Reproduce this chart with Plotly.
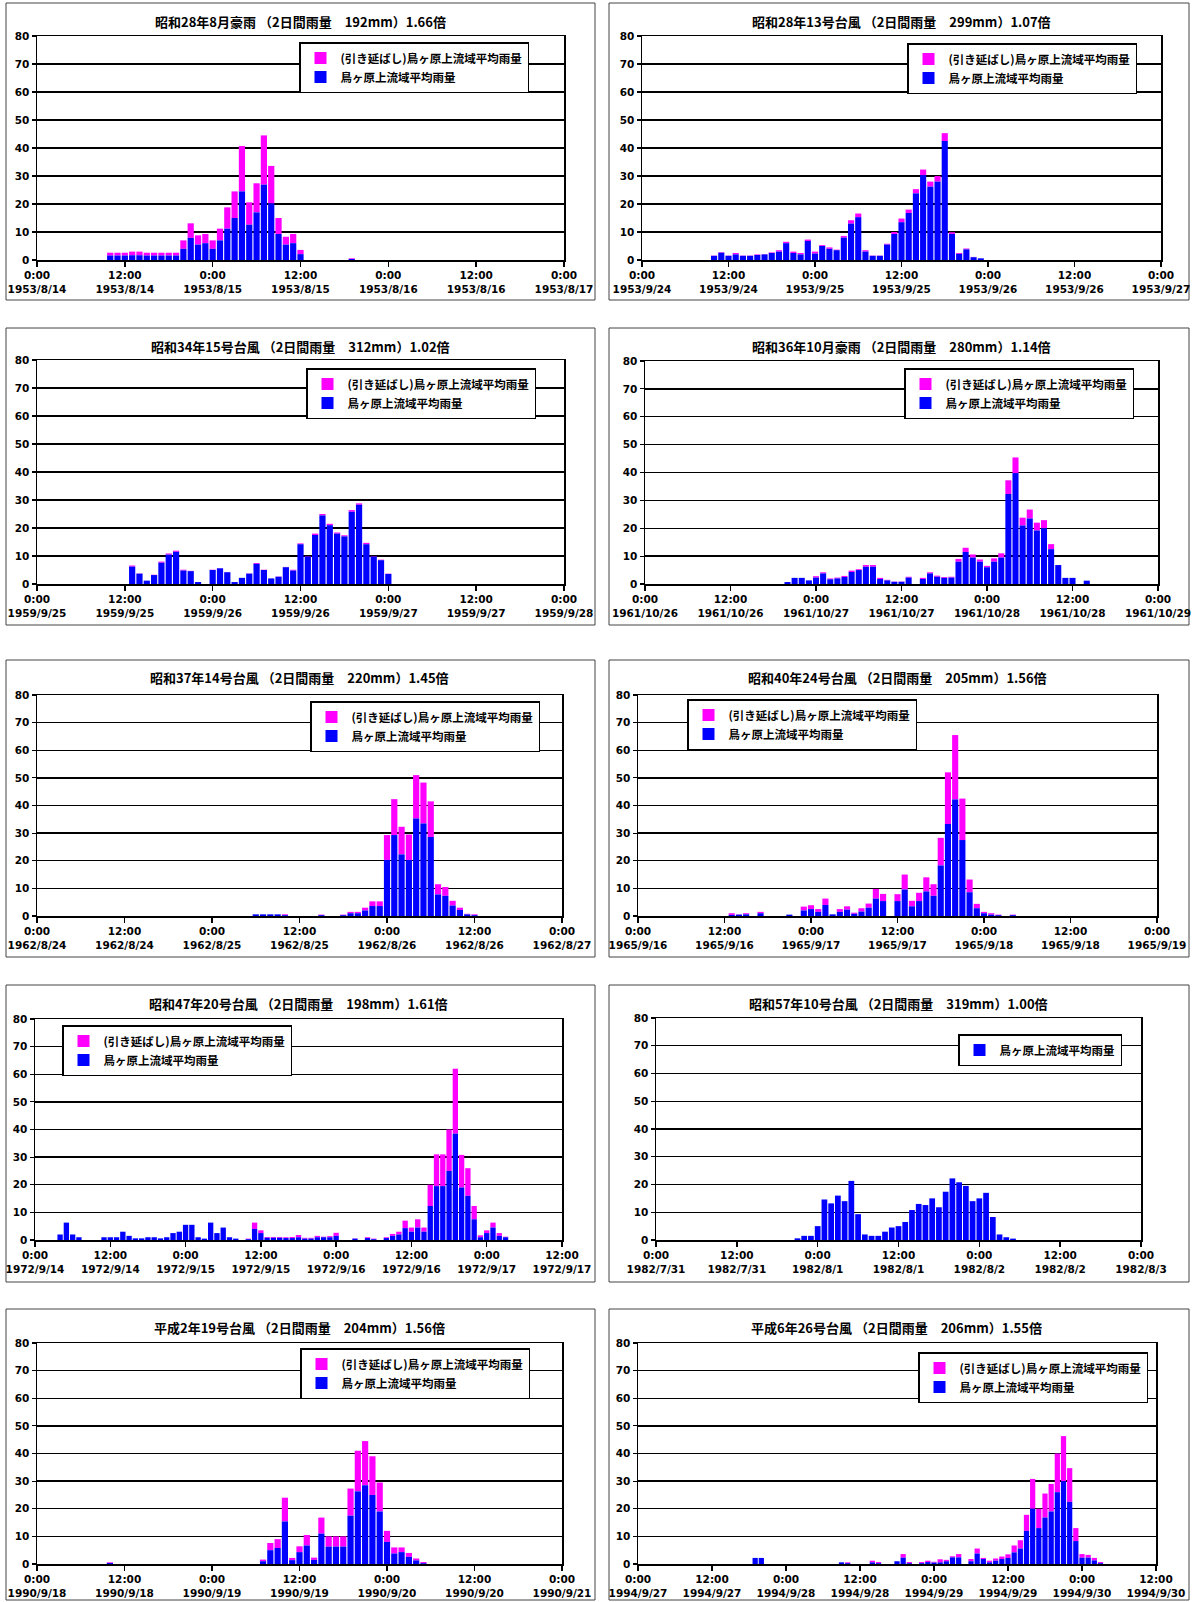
import pandas as pd
import plotly.graph_objects as go

# ---------------- data ----------------
NAME_EXT = "(引き延ばし)鳥ヶ原上流域平均雨量"
NAME_BASE = "鳥ヶ原上流域平均雨量"

titles = [
    "昭和28年8月豪雨 （2日間雨量　192mm）1.66倍",
    "昭和28年13号台風 （2日間雨量　299mm）1.07倍",
    "昭和34年15号台風 （2日間雨量　312mm）1.02倍",
    "昭和36年10月豪雨 （2日間雨量　280mm）1.14倍",
    "昭和37年14号台風 （2日間雨量　220mm）1.45倍",
    "昭和40年24号台風 （2日間雨量　205mm）1.56倍",
    "昭和47年20号台風 （2日間雨量　198mm）1.61倍",
    "昭和57年10号台風 （2日間雨量　319mm）1.00倍",
    "平成2年19号台風 （2日間雨量　204mm）1.56倍",
    "平成6年26号台風 （2日間雨量　206mm）1.55倍",
]
starts = ["1953-08-14", "1953-09-24", "1959-09-25", "1961-10-26", "1962-08-24",
          "1965-09-16", "1972-09-14", "1982-07-31", "1990-09-18", "1994-09-27"]
span_hours = [72, 72, 72, 72, 72, 72, 84, 72, 72, 84]

# hour offsets from start, observed (blue) and stretched (blue + magenta) hourly rainfall [mm]
hours_1 = [10, 11, 12, 13, 14, 15, 16, 17, 18, 19, 20, 21, 22, 23, 24, 25, 26, 27, 28, 29, 30, 31, 32, 33, 34, 35, 36, 43]
blue_1 = [1.6, 1.6, 1.6, 1.7, 1.7, 1.6, 1.6, 1.6, 1.6, 1.6, 4.0, 7.9, 5.5, 6.0, 4.0, 7.0, 11.2, 15.0, 24.5, 12.6, 17.0, 26.9, 20.2, 9.3, 5.5, 6.0, 2.1, 0.35]
ext_1 = [2.6, 2.6, 2.6, 3.0, 3.0, 2.6, 2.6, 2.6, 2.6, 2.6, 7.0, 13.1, 8.8, 9.3, 7.0, 11.2, 18.8, 24.5, 40.7, 20.6, 27.4, 44.5, 33.6, 15.0, 8.3, 9.3, 3.6, 0.6]

hours_2 = list(range(10, 48))
blue_2 = [1.5, 2.6, 1.5, 2.0, 1.5, 1.5, 1.8, 2.0, 2.5, 3.0, 6.0, 2.5, 2.0, 6.8, 2.3, 5.0, 4.0, 3.5, 8.0, 13.0,
          15.3, 3.0, 1.5, 1.5, 5.5, 9.3, 13.5, 16.8, 23.8, 30.3, 26.2, 28.0, 42.5, 9.3, 2.2, 3.8, 1.0, 0.6]
ext_2 = [1.6, 2.8, 1.6, 2.5, 1.6, 1.6, 2.0, 2.1, 2.7, 3.5, 6.5, 3.0, 2.5, 7.3, 3.0, 5.3, 4.5, 3.7, 8.6, 14.2,
         16.6, 3.5, 1.6, 1.6, 5.8, 10.0, 14.8, 18.0, 25.3, 32.3, 28.0, 30.0, 45.3, 9.9, 2.5, 4.1, 1.1, 0.6]

hours_3 = [13, 14, 15, 16, 17, 18, 19, 20, 21, 22, 24, 25, 26, 27, 28, 29, 30, 31, 32, 33, 34, 35, 36, 37, 38,
           39, 40, 41, 42, 43, 44, 45, 46, 47, 48]
blue_3 = [6.2, 3.7, 1.2, 3.2, 7.6, 10.5, 11.5, 4.8, 4.6, 0.7, 5.0, 5.6, 4.2, 0.7, 2.2, 3.7, 7.2, 5.0, 2.0, 2.6,
          6.0, 4.8, 14.2, 9.8, 17.5, 24.5, 21.0, 18.0, 17.0, 25.8, 28.3, 14.2, 9.8, 8.5, 3.6]
ext_3 = [6.6, 3.8, 1.2, 3.3, 8.0, 10.9, 11.9, 5.1, 4.7, 0.7, 5.1, 5.7, 4.3, 0.7, 2.2, 3.8, 7.5, 5.1, 2.0, 2.7,
         6.1, 5.1, 14.5, 10.0, 18.0, 25.0, 21.5, 18.4, 17.4, 26.4, 28.8, 14.7, 10.0, 8.7, 3.7]

hours_4 = [20, 21, 22, 23, 24, 25, 26, 27, 28, 29, 30, 31, 32, 33, 34, 35, 36, 37, 39, 40, 41, 42, 43, 44, 45,
           46, 47, 48, 49, 50, 51, 52, 53, 54, 55, 56, 57, 58, 59, 60, 62]
blue_4 = [0.7, 2.2, 2.2, 1.3, 2.3, 3.8, 1.7, 2.0, 2.5, 4.3, 5.0, 6.2, 6.2, 1.8, 1.3, 0.8, 0.8, 2.3, 1.8, 3.8,
          2.6, 2.2, 2.3, 8.0, 11.5, 9.5, 8.0, 6.0, 8.0, 9.5, 32.3, 39.8, 21.0, 23.5, 19.2, 20.0, 12.5, 6.8, 2.2, 2.2, 1.2]
ext_4 = [0.7, 2.2, 2.2, 1.3, 2.8, 4.2, 2.0, 2.3, 2.9, 4.8, 5.3, 6.8, 6.8, 2.2, 1.5, 0.9, 0.9, 2.6, 2.2, 4.2,
         3.0, 2.5, 2.6, 9.0, 13.0, 10.6, 8.8, 6.5, 9.2, 11.0, 37.2, 45.4, 23.8, 26.7, 22.0, 22.9, 14.3, 6.8, 2.2, 2.2, 1.2]

hours_5 = [30, 31, 32, 33, 34, 39, 42, 43, 44, 45, 46, 47, 48, 49, 50, 51, 52, 53, 54, 55, 56, 57, 58, 59, 60]
blue_5 = [0.6, 0.6, 0.6, 0.6, 0.3, 0.3, 0.3, 1.0, 1.0, 2.0, 3.6, 3.6, 20.3, 29.3, 22.3, 20.3, 35.3, 33.5, 28.6,
          7.8, 7.3, 3.8, 2.2, 0.6, 0.3]
ext_5 = [0.6, 0.6, 0.6, 0.6, 0.6, 0.5, 0.5, 1.5, 1.5, 3.0, 5.3, 5.3, 29.3, 42.3, 32.3, 29.5, 51.0, 48.3, 41.5,
         11.5, 10.5, 5.5, 3.0, 0.8, 0.6]

hours_6 = [13, 14, 15, 17, 21, 23, 24, 25, 26, 27, 28, 29, 30, 31, 32, 33, 34, 36, 37, 38, 39, 40, 41, 42, 43,
           44, 45, 46, 47, 48, 49, 50, 52]
blue_6 = [0.4, 0.5, 0.6, 1.0, 0.5, 2.0, 2.5, 1.5, 4.0, 0.6, 1.5, 2.3, 0.8, 1.6, 3.0, 6.3, 5.4, 5.4, 9.6, 3.5,
          5.4, 8.9, 7.3, 18.3, 33.3, 42.2, 27.5, 8.6, 2.8, 1.0, 0.5, 0.3, 0.3]
ext_6 = [1.0, 0.6, 1.0, 1.5, 0.5, 3.4, 3.9, 2.5, 6.3, 0.6, 2.5, 3.5, 1.2, 2.8, 4.5, 9.8, 8.0, 7.9, 15.0, 5.5,
         8.4, 14.0, 11.5, 28.3, 52.0, 65.5, 42.5, 13.2, 4.4, 1.5, 1.0, 0.5, 0.5]

hours_7 = [4, 5, 6, 7, 11, 12, 13, 14, 15, 16, 17, 18, 19, 20, 21, 22, 23, 24, 25, 26, 27, 28, 29, 30, 31, 32,
           34, 35, 36, 37, 38, 39, 40, 41, 42, 43, 44, 45, 46, 47, 48, 51, 53, 54, 56, 57, 58, 59, 60, 61, 62,
           63, 64, 65, 66, 67, 68, 69, 70, 71, 72, 73, 74, 75]
blue_7 = [2.0, 6.3, 2.0, 1.0, 1.0, 1.0, 1.0, 3.0, 1.5, 0.6, 0.6, 1.0, 1.0, 0.6, 1.0, 2.5, 3.0, 5.5, 5.5, 1.0,
          0.5, 6.3, 2.5, 4.5, 1.0, 0.5, 0.3, 4.0, 2.5, 0.8, 0.8, 0.8, 0.7, 0.7, 1.0, 0.5, 0.5, 1.0, 1.0, 1.0,
          1.5, 0.5, 0.7, 0.3, 0.7, 1.5, 2.0, 4.3, 3.0, 4.5, 3.0, 12.3, 19.5, 19.5, 25.0, 38.5, 19.0, 16.0, 7.5,
          1.0, 2.5, 4.5, 1.5, 1.0]
ext_7 = [2.0, 6.3, 2.0, 1.0, 1.0, 1.0, 1.0, 3.0, 1.5, 0.6, 0.6, 1.0, 1.0, 0.6, 1.0, 2.5, 3.0, 5.5, 5.5, 1.0,
         0.5, 6.3, 2.5, 4.5, 1.0, 0.5, 0.5, 6.3, 3.5, 1.1, 1.1, 1.1, 1.0, 1.1, 1.8, 0.8, 0.8, 1.5, 1.2, 1.4,
         2.6, 0.6, 1.0, 0.5, 1.0, 2.2, 3.0, 7.0, 4.5, 7.5, 4.5, 20.0, 31.0, 31.0, 40.0, 62.0, 30.8, 26.0, 12.3,
         1.7, 3.5, 6.3, 2.5, 1.2]

hours_8 = list(range(21, 54))
blue_8 = [0.6, 1.5, 1.5, 5.0, 14.6, 13.2, 16.0, 14.0, 21.3, 9.3, 2.0, 1.5, 1.5, 3.0, 4.5, 5.0, 6.5, 10.8, 13.0,
          12.6, 15.0, 11.8, 17.4, 22.2, 20.8, 19.5, 14.0, 15.0, 17.0, 8.3, 2.0, 1.0, 0.5]
ext_8 = None

hours_9 = [10] + list(range(31, 54))
blue_9 = [0.35, 1.0, 5.0, 5.8, 15.4, 1.4, 4.3, 6.7, 1.5, 11.0, 6.3, 6.3, 6.3, 17.5, 26.3, 28.5, 25.0, 19.0,
          8.0, 3.8, 4.3, 2.6, 1.3, 0.3]
ext_9 = [0.6, 1.6, 7.6, 9.0, 24.0, 2.2, 6.4, 10.5, 2.3, 16.8, 10.0, 10.0, 10.0, 27.3, 41.0, 44.5, 39.0, 29.5,
         12.0, 6.0, 6.0, 4.0, 2.0, 0.7]

hours_10 = [19, 20, 33, 34, 38, 39, 42, 43, 44, 46, 47, 48, 49, 50, 51, 52, 54, 55, 56, 57, 58, 59, 60, 61, 62,
            63, 64, 65, 66, 67, 68, 69, 70, 71, 72, 73, 74, 75]
blue_10 = [2.2, 2.2, 0.6, 0.3, 0.6, 0.3, 1.0, 2.3, 0.3, 0.3, 0.7, 0.5, 0.6, 1.0, 2.4, 2.4, 1.0, 3.8, 1.8, 0.6,
           1.2, 1.8, 2.2, 4.2, 5.6, 12.0, 20.0, 13.0, 16.8, 19.0, 26.0, 30.0, 22.5, 8.3, 2.3, 2.3, 1.3, 0.3]
ext_10 = [2.2, 2.2, 0.6, 0.6, 1.2, 0.7, 1.0, 3.6, 0.7, 0.7, 1.2, 0.8, 1.7, 1.5, 2.8, 3.6, 1.8, 5.6, 2.2, 1.2,
          2.0, 2.7, 3.5, 6.7, 8.6, 17.8, 30.8, 20.0, 25.5, 29.0, 40.0, 46.3, 34.7, 13.0, 3.6, 3.3, 2.2, 0.7]

hours_all = [hours_1, hours_2, hours_3, hours_4, hours_5, hours_6, hours_7, hours_8, hours_9, hours_10]
blue_all = [blue_1, blue_2, blue_3, blue_4, blue_5, blue_6, blue_7, blue_8, blue_9, blue_10]
ext_all = [ext_1, ext_2, ext_3, ext_4, ext_5, ext_6, ext_7, ext_8, ext_9, ext_10]

y_ticks = [0, 10, 20, 30, 40, 50, 60, 70, 80]

# ---------------- layout (pixel boxes) ----------------
W, H = 1199, 1602
# plot area: x0, x1, y0(top), y1(bottom)
plot_boxes = [
    (37, 564, 36, 260), (642, 1161, 36, 260),
    (37, 564, 360, 584), (645, 1158, 361, 584),
    (37, 562, 695, 916), (638, 1157, 695, 916),
    (35, 562, 1019, 1240), (656, 1141, 1018, 1240),
    (37, 562, 1343, 1564), (638, 1156, 1343, 1564),
]
title_y = [21, 21, 347, 347, 678, 678, 1003, 1003, 1327, 1327]
legend_pos = [(299, 42), (907, 43), (306, 368), (904, 368), (310, 701),
              (687, 699), (62, 1025), (958, 1034), (300, 1348), (918, 1352)]
frames = [
    (6, 3, 595, 300), (609, 3, 1189, 300),
    (6, 328, 595, 625), (609, 328, 1189, 625),
    (6, 660, 595, 957), (609, 660, 1189, 957),
    (6, 985, 595, 1282), (609, 985, 1189, 1282),
    (6, 1309, 595, 1600), (609, 1309, 1189, 1600),
]

BLUE = "#0000FF"
MAGENTA = "#FF00FF"
HOUR_MS = 3600 * 1000
BAR_W = 0.85 * HOUR_MS
CJK = "Noto Sans CJK JP"
NUMF = "DejaVu Sans"

fig = go.Figure()
layout = {}
annotations = []
shapes = []

for i in range(10):
    k = i + 1
    sfx = "" if k == 1 else str(k)
    xa, ya, lg = "x" + sfx, "y" + sfx, "legend" + sfx
    start = pd.Timestamp(starts[i])
    times = (start + pd.to_timedelta(hours_all[i], unit="h")).strftime("%Y-%m-%d %H:%M:%S").tolist()
    blue = blue_all[i]
    ext = ext_all[i]
    if ext is not None:
        fig.add_trace(go.Bar(
            x=times, y=[e - b for e, b in zip(ext, blue)], base=blue,
            name=NAME_EXT, marker=dict(color=MAGENTA, line=dict(width=0)),
            width=BAR_W, xaxis=xa, yaxis=ya, legend=lg, legendgroup=f"e{k}", hoverinfo="skip"))
    fig.add_trace(go.Bar(
        x=times, y=blue, name=NAME_BASE, marker=dict(color=BLUE, line=dict(width=0)),
        width=BAR_W, xaxis=xa, yaxis=ya, legend=lg, legendgroup=f"b{k}", hoverinfo="skip"))

    x0, x1, y0, y1 = plot_boxes[i]
    end = start + pd.Timedelta(hours=span_hours[i])
    layout["xaxis" + sfx] = dict(
        domain=[x0 / W, x1 / W], anchor=ya, type="date", automargin=False,
        range=[start.strftime("%Y-%m-%d %H:%M:%S"), end.strftime("%Y-%m-%d %H:%M:%S")],
        tickmode="linear", tick0=start.strftime("%Y-%m-%d %H:%M:%S"), dtick=12 * HOUR_MS,
        tickformat="%-H:%M<br>%Y/%-m/%-d",
        showline=True, mirror=True, linecolor="black", linewidth=1.5,
        ticks="outside", ticklen=5, tickwidth=1.5, tickcolor="black",
        showgrid=False, zeroline=False,
        tickfont=dict(family=NUMF, size=10.5, color="black", weight="bold"),
    )
    layout["yaxis" + sfx] = dict(
        domain=[1 - y1 / H, 1 - y0 / H], anchor=xa, range=[0, 80], automargin=False,
        tickmode="array", tickvals=y_ticks,
        showline=True, mirror=True, linecolor="black", linewidth=1.5,
        showgrid=True, gridcolor="black", gridwidth=1.4, zeroline=False,
        ticks="outside", ticklen=4, tickwidth=1.2, tickcolor="black",
        tickfont=dict(family=NUMF, size=10.5, color="black", weight="bold"),
    )
    lx, ly = legend_pos[i]
    layout[lg] = dict(
        x=lx / W, y=1 - ly / H, xanchor="left", yanchor="top", xref="paper", yref="paper",
        bgcolor="white", bordercolor="black", borderwidth=1.5,
        font=dict(family=CJK, size=11.5, color="black", weight="bold"),
        traceorder="grouped", tracegroupgap=0, itemclick=False, itemdoubleclick=False,
    )
    annotations.append(dict(
        text=titles[i], x=(x0 + x1) / 2 / W, y=1 - title_y[i] / H, xref="paper", yref="paper",
        xanchor="center", yanchor="middle", showarrow=False,
        font=dict(family=CJK, size=13, color="black", weight="bold")))
    fx0, fy0, fx1, fy1 = frames[i]
    shapes.append(dict(type="rect", xref="paper", yref="paper",
                       x0=fx0 / W, x1=fx1 / W, y0=1 - fy1 / H, y1=1 - fy0 / H,
                       line=dict(color="#444444", width=1), fillcolor="rgba(0,0,0,0)", layer="below"))

fig.update_layout(
    width=W, height=H, autosize=False,
    margin=dict(l=0, r=0, t=0, b=0, autoexpand=False),
    paper_bgcolor="white", plot_bgcolor="white",
    barmode="overlay", showlegend=True, hovermode=False,
    annotations=annotations, shapes=shapes,
    font=dict(family=CJK, color="black"),
    **layout,
)

fig.write_html(
    "out.html",
    config={"displayModeBar": False, "staticPlot": True},
    post_script="document.body.style.margin='0';document.body.style.padding='0';"
                "document.documentElement.style.overflow='hidden';document.body.style.overflow='hidden';",
)
